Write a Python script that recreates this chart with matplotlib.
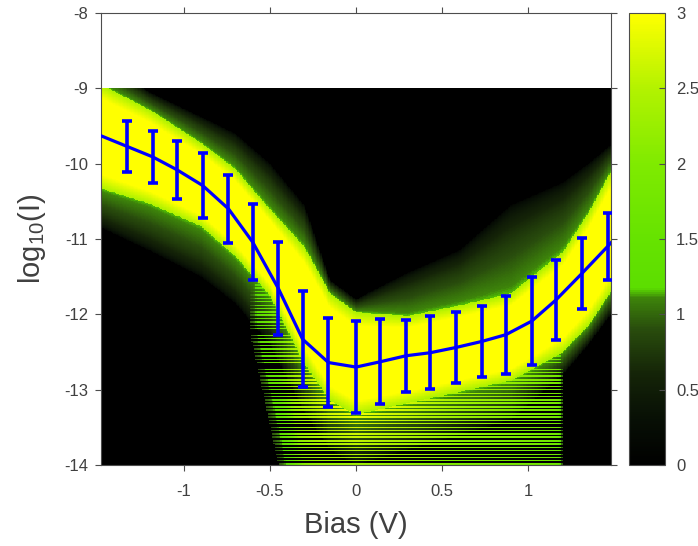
import numpy as np
import matplotlib
matplotlib.use("Agg")
import matplotlib.pyplot as plt
from matplotlib.colors import LinearSegmentedColormap

plt.rcParams["font.family"] = ["Liberation Sans", "DejaVu Sans"]
plt.rcParams["mathtext.fontset"] = "custom"
plt.rcParams["mathtext.rm"] = "Liberation Sans"
plt.rcParams["mathtext.it"] = "Liberation Sans:italic"

# ---- mean +/- std of log10(I) at selected bias points ----
bias_pts = [-1.33, -1.18, -1.04, -0.89, -0.74, -0.60, -0.45, -0.31, -0.16, 0.00,
            0.14, 0.29, 0.43, 0.58, 0.73, 0.87, 1.02, 1.16, 1.31, 1.46]
mean_pts = [-9.77, -9.91, -10.08, -10.29, -10.60, -11.04, -11.66, -12.33, -12.64, -12.70,
            -12.63, -12.55, -12.51, -12.44, -12.36, -12.27, -12.09, -11.81, -11.46, -11.10]
std_pts = [0.335, 0.35, 0.385, 0.425, 0.45, 0.505, 0.615, 0.64, 0.595, 0.605,
           0.565, 0.475, 0.485, 0.475, 0.475, 0.52, 0.58, 0.53, 0.475, 0.44]

# mean curve over the whole sweep
curve_bias = [-1.48] + bias_pts + [1.48]
curve_mean = [-9.63] + mean_pts + [-11.05]

# ---- envelope of the trace density (log10 counts) ----
env_bias = [-1.48, -1.2, -0.9, -0.7, -0.5, -0.3, -0.15, 0.0, 0.3, 0.6, 0.9, 1.2, 1.35, 1.48]
core_top = [-8.95, -9.28, -9.72, -10.07, -10.6, -11.1, -11.72, -11.97, -12.02, -11.88, -11.72, -11.17, -10.65, -10.1]
halo_top = [-8.6, -9.05, -9.38, -9.6, -10.0, -10.55, -11.55, -11.8, -11.45, -11.15, -10.55, -10.25, -10.0, -9.75]
core_bot = [-10.33, -10.53, -10.83, -11.23, -11.75, -12.65, -13.15, -13.33, -13.18, -13.03, -12.88, -12.5, -12.15, -11.7]
halo_bot = [-10.85, -11.15, -11.5, -11.85, -12.4, -13.3, -13.8, -14.0, -13.8, -13.6, -13.4, -12.8, -12.4, -12.0]

# low-current floor below the band: level by bias, left edge by log10(I)
floor_bias = [-0.45, -0.35, -0.2, 0.0, 0.3, 0.6, 0.9, 1.1, 1.17, 1.2]
floor_level = [1.0, 1.6, 1.9, 2.0, 1.8, 1.5, 1.3, 1.1, 1.0, 0.0]
floor_edge_logi = [-14.0, -12.2]
floor_edge_bias = [-0.45, -0.62]
floor_stripe = 0.045   # spacing of the quantised current levels (decades)

# histogram grid
x_edges = np.linspace(-1.48, 1.48, 371)
y_edges = np.linspace(-14.0, -9.0, 501)
xc = 0.5 * (x_edges[1:] + x_edges[:-1])
yc = 0.5 * (y_edges[1:] + y_edges[:-1])
X, Y = np.meshgrid(xc, yc)

ct = np.interp(X, env_bias, core_top)
cb = np.interp(X, env_bias, core_bot)
ht = np.interp(X, env_bias, halo_top)
hb = np.interp(X, env_bias, halo_bot)
fl = np.interp(X, floor_bias, floor_level)
f_left = np.interp(Y, floor_edge_logi, floor_edge_bias)
fl = fl * np.clip((X - f_left) / 0.15, 0, 1)
# the floor dims with depth below the band
depth = np.clip((cb - Y) / np.maximum(cb + 14.0, 1e-6), 0, 1)
fl = fl * (1.0 - 0.3 * depth)

density = np.zeros_like(X)
mid = 0.5 * (ct + cb)
half = 0.5 * (ct - cb)
inside = (Y <= ct) & (Y >= cb)
w = np.clip(1 - np.abs(Y - mid) / half, 0, 1)
density[inside] = (2.45 + 2.0 * w)[inside]

# sparse traces around the band fade out slowly
above = Y > ct
t_up = np.clip((Y - ct) / (ht - ct), 0, 1)
halo_up = np.where(t_up < 1, 1.15 * (1 - t_up) ** 0.45, 0.0)
density[above] = halo_up[above]

below = Y < cb
t_dn = np.clip((cb - Y) / (cb - hb), 0, 1)
halo_dn = np.where(t_dn < 1, 1.15 * (1 - t_dn) ** 0.45, 0.0)
phase = ((Y + 14.0) / floor_stripe) % 1.0
striped = np.where(phase < 0.42, fl + 0.9, fl - 1.7)
striped = np.where(fl > 0, striped, 0.0)
density[below] = np.maximum(halo_dn, striped)[below]
density = np.clip(density, 0, 3)

cmap = LinearSegmentedColormap.from_list(
    "trace_density",
    [(0.0, (0, 0, 0)),
     (0.1, (0.03, 0.06, 0.02)),
     (0.2, (0.08, 0.14, 0.03)),
     (0.3, (0.16, 0.30, 0.05)),
     (0.37, (0.24, 0.52, 0.04)),
     (0.39, (0.36, 0.87, 0.0)),
     (0.5, (0.40, 0.89, 0.0)),
     (0.667, (0.50, 0.92, 0.0)),
     (0.833, (0.70, 0.95, 0.0)),
     (1.0, (1.0, 1.0, 0.0))])

fig = plt.figure(figsize=(6.98, 5.46), dpi=100)
ax = fig.add_axes([101 / 698, 1 - 465 / 546, 510 / 698, 452 / 546])
cax = fig.add_axes([629 / 698, 1 - 465 / 546, 36 / 698, 452 / 546])

mesh = ax.pcolormesh(x_edges, y_edges, density, cmap=cmap, vmin=0, vmax=3,
                     shading="flat", rasterized=True)

ax.plot(curve_bias, curve_mean, color=(0, 0, 1), lw=2.3, zorder=3)
ax.errorbar(bias_pts, mean_pts, yerr=std_pts, fmt="none", ecolor=(0, 0, 1),
            elinewidth=2.6, capsize=3.6, capthick=2.6, zorder=4)

ax.set_xlim(-1.48, 1.48)
ax.set_ylim(-14, -8)
ax.set_xticks([-1, -0.5, 0, 0.5, 1])
ax.set_xticklabels(["-1", "-0.5", "0", "0.5", "1"])
ax.set_yticks(range(-14, -7))
ax.set_yticklabels([str(v) for v in range(-14, -7)])

edge = "#4d4d4d"
txt = "#404040"
for s in ax.spines.values():
    s.set_color(edge)
    s.set_linewidth(0.8)
ax.tick_params(direction="out", length=4, width=0.8, color=edge, labelcolor=txt,
               labelsize=12, top=True, right=True)
ax.tick_params(axis="x", pad=10)
ax.tick_params(axis="y", pad=5)

ax.set_xlabel("Bias (V)", fontsize=21, color=txt, labelpad=8)
ax.set_ylabel(r"log$_{10}$(I)", fontsize=21, color=txt, labelpad=12)

cb_ = fig.colorbar(mesh, cax=cax, ticks=[0, 0.5, 1, 1.5, 2, 2.5, 3])
cb_.ax.set_yticklabels(["0", "0.5", "1", "1.5", "2", "2.5", "3"])
cb_.outline.set_edgecolor(edge)
cb_.outline.set_linewidth(0.8)
cax.tick_params(direction="in", length=4, width=0.8, color=edge, labelcolor=txt,
                labelsize=12, pad=8)

fig.savefig("out.png", dpi=100)
